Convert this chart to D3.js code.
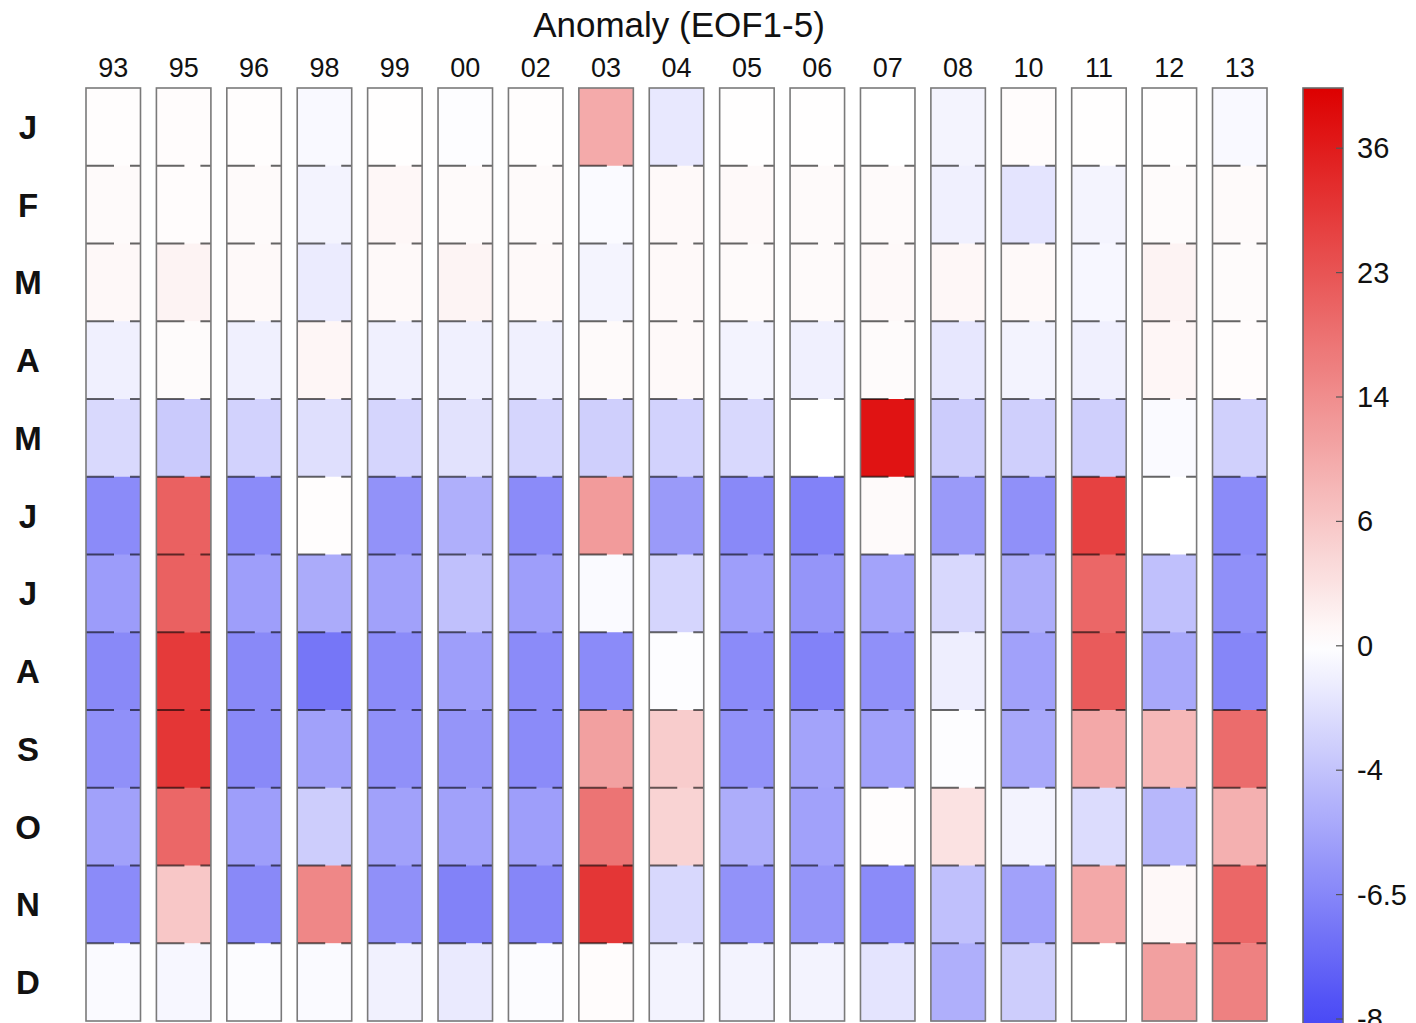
<!DOCTYPE html>
<html>
<head>
<meta charset="utf-8">
<script src="https://cdn.jsdelivr.net/npm/d3@7"></script>
<style>
  body { margin: 0; background: #fff; }
  svg { display: block; }
  text { font-family: "Liberation Sans", Arial, Helvetica, sans-serif; fill: #111; }
</style>
</head>
<body>
<div id="chart"></div>
<script>
var years = ["93", "95", "96", "98", "99", "00", "02", "03", "04", "05", "06", "07", "08", "10", "11", "12", "13"]
var months = ["J", "F", "M", "A", "M", "J", "J", "A", "S", "O", "N", "D"]

// anomaly per month, one value per year (same order as years)
var jan = [0.2, 0.3, 0.2, -0.4, 0.1, -0.1, 0.2, 10, -1.5, 0.1, 0.1, 0, -0.7, 0.3, 0.1, 0.1, -0.4]
var feb = [0.5, 0.3, 0.5, -0.8, 0.8, 0.5, 0.5, -0.3, 0.6, 0.6, 0.5, 0.5, -1.0, -1.8, -0.7, 0.4, 0.5]
var mar = [0.7, 1.3, 0.6, -1.3, 0.6, 1.2, 0.6, -0.7, 0.6, 0.5, 0.5, 0.6, 0.8, 0.6, -0.5, 1.3, 0.4]
var apr = [-1.0, 0.4, -1.0, 1.0, -1.0, -1.0, -1.0, 0.5, 0.6, -0.8, -1.0, 0.4, -1.6, -0.8, -1.0, 1.0, 0.3]
var may = [-2.5, -3.5, -3.0, -2.1, -2.8, -1.9, -2.8, -3.2, -3.0, -2.6, 0, 38, -3.4, -3.2, -3.2, -0.3, -3.1]
var jun = [-6.3, 21, -6.3, 0.2, -6.0, -4.8, -6.3, 12, -5.7, -6.4, -6.6, 0.5, -5.7, -6.1, 27.5, 0, -6.3]
var jul = [-5.6, 21, -5.5, -5.0, -5.4, -4.1, -5.5, -0.3, -2.8, -5.5, -5.9, -5.3, -2.6, -4.9, 20, -4.1, -6.1]
var aug = [-6.4, 29, -6.4, -6.9, -6.3, -5.5, -6.3, -6.3, -0.1, -6.3, -6.6, -6.1, -1.1, -5.4, 22, -5.1, -6.5]
var sep = [-6.1, 30, -6.4, -5.4, -6.1, -5.9, -6.3, 11.3, 5.4, -6.0, -5.3, -5.4, -0.1, -5.1, 10.2, 8, 19.3]
var oct = [-5.4, 20, -5.5, -3.3, -5.4, -5.4, -5.5, 18, 4.6, -4.9, -5.4, 0.2, 3.1, -0.8, -2.3, -4.5, 9.1]
var nov = [-6.3, 5.9, -6.4, 15, -6.1, -6.6, -6.5, 30, -2.6, -6.0, -5.9, -6.3, -4.1, -5.4, 10.2, 0.7, 20]
var dec = [-0.3, -0.5, -0.2, -0.3, -0.9, -1.4, -0.2, 0.3, -0.8, -0.8, -0.8, -1.8, -4.8, -3.3, 0, 11.3, 16]

var rows = [jan, feb, mar, apr, may, jun, jul, aug, sep, oct, nov, dec]

// colorbar ticks (non-linear, evenly spaced on the bar)
var cbTicks = [-8, -6.5, -4, 0, 6, 14, 23, 36]

var W = 1416, H = 1023

var svg = d3.select("#chart").append("svg")
  .attr("width", W)
  .attr("height", H)

var x = d3.scaleBand()
  .domain(years)
  .range([86, 1267])
  .paddingInner(0.226)
  .paddingOuter(0)

var y = d3.scaleBand()
  .domain(d3.range(months.length))
  .range([88, 1021])

// value -> position on the colorbar (piecewise linear)
var cbBottom = 1019, cbTop = 88, cbStep = 124.4
var cbPos = d3.scaleLinear()
  .domain(cbTicks)
  .range(cbTicks.map((d, i) => cbBottom - i * cbStep))
var zeroY = cbPos(0)

var redI = d3.interpolateRgb("#ffffff", "#dd0000")
var blueI = d3.interpolateRgb("#ffffff", "#4a4af5")

function colorAtY(py) {
  if (py <= zeroY) return redI(Math.min(1, (zeroY - py) / (zeroY - cbTop)))
  return blueI(Math.min(1, (py - zeroY) / (cbBottom - zeroY)))
}
function color(v) { return colorAtY(cbPos(v)) }

// title
svg.append("text")
  .attr("x", 679)
  .attr("y", 37)
  .attr("text-anchor", "middle")
  .style("font-size", "35px")
  .text("Anomaly (EOF1-5)")

// year labels
svg.append("g").selectAll("text")
  .data(years)
  .enter().append("text")
    .attr("x", d => x(d) + x.bandwidth() / 2)
    .attr("y", 77)
    .attr("text-anchor", "middle")
    .style("font-size", "27px")
    .text(d => d)

// month labels
svg.append("g").selectAll("text")
  .data(months)
  .enter().append("text")
    .attr("x", 28)
    .attr("y", (d, i) => y(i) + y.bandwidth() / 2 + 12)
    .attr("text-anchor", "middle")
    .style("font-size", "33px")
    .style("font-weight", "bold")
    .text(d => d)

// cells
var cells = []
rows.forEach((r, i) => r.forEach((v, j) => cells.push({ row: i, year: years[j], value: v })))

var g = svg.append("g")
g.selectAll("rect.cell")
  .data(cells)
  .enter().append("rect")
    .attr("class", "cell")
    .attr("x", d => x(d.year))
    .attr("y", d => y(d.row))
    .attr("width", x.bandwidth())
    .attr("height", y.bandwidth() + 0.5)
    .attr("fill", d => color(d.value))

// dashed separators between months
var seps = []
years.forEach(yr => d3.range(1, months.length).forEach(i => seps.push({ year: yr, row: i })))
g.selectAll("line.sep")
  .data(seps)
  .enter().append("line")
    .attr("class", "sep")
    .attr("x1", d => x(d.year))
    .attr("x2", d => x(d.year) + x.bandwidth())
    .attr("y1", d => y(d.row))
    .attr("y2", d => y(d.row))
    .attr("stroke", "#000")
    .attr("stroke-opacity", 0.6)
    .attr("stroke-width", 2.2)
    .attr("stroke-dasharray", "28,16,12")

// column outlines
g.selectAll("rect.box")
  .data(years)
  .enter().append("rect")
    .attr("class", "box")
    .attr("x", d => x(d))
    .attr("y", y.range()[0])
    .attr("width", x.bandwidth())
    .attr("height", y.range()[1] - y.range()[0])
    .attr("fill", "none")
    .attr("stroke", "#7a7a7a")
    .attr("stroke-width", 1.6)

// colorbar
var cbX = 1303, cbW = 40
var defs = svg.append("defs")
var grad = defs.append("linearGradient")
  .attr("id", "cbgrad")
  .attr("gradientUnits", "userSpaceOnUse")
  .attr("x1", 0).attr("x2", 0).attr("y1", cbTop).attr("y2", H)
d3.range(0, 41).forEach(k => {
  var py = cbTop + (H - cbTop) * k / 40
  grad.append("stop")
    .attr("offset", (k / 40 * 100) + "%")
    .attr("stop-color", colorAtY(py))
})

svg.append("rect")
  .attr("x", cbX)
  .attr("y", cbTop)
  .attr("width", cbW)
  .attr("height", H - cbTop + 5)
  .attr("fill", "url(#cbgrad)")
  .attr("stroke", "#6a6a6a")
  .attr("stroke-width", 1.6)

var cb = svg.append("g")
cb.selectAll("line")
  .data(cbTicks)
  .enter().append("line")
    .attr("x1", cbX + cbW - 7)
    .attr("x2", cbX + cbW)
    .attr("y1", d => cbPos(d))
    .attr("y2", d => cbPos(d))
    .attr("stroke", "#555")
    .attr("stroke-width", 1.2)

cb.selectAll("text")
  .data(cbTicks)
  .enter().append("text")
    .attr("x", 1357)
    .attr("y", d => cbPos(d) + 10)
    .style("font-size", "29px")
    .text(d => d)
</script>
</body>
</html>
